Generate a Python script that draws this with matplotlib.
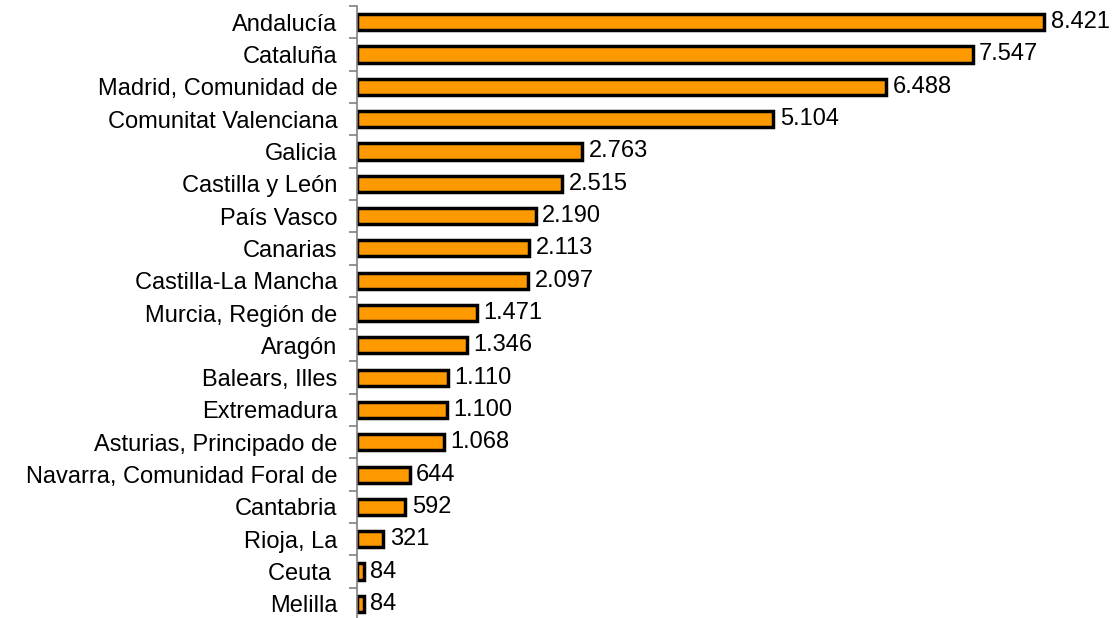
import matplotlib.pyplot as plt
import numpy as np

plt.rcParams['font.family'] = ['Liberation Sans', 'DejaVu Sans']

regions = ["Andalucía", "Cataluña", "Madrid, Comunidad de", "Comunitat Valenciana",
           "Galicia", "Castilla y León", "País Vasco", "Canarias", "Castilla-La Mancha",
           "Murcia, Región de", "Aragón", "Balears, Illes", "Extremadura",
           "Asturias, Principado de", "Navarra, Comunidad Foral de", "Cantabria",
           "Rioja, La", "Ceuta ", "Melilla"]
values = [8421, 7547, 6488, 5104, 2763, 2515, 2190, 2113, 2097,
          1471, 1346, 1110, 1100, 1068, 644, 592, 321, 84, 84]

fig = plt.figure(figsize=(11.16, 6.18), dpi=100)
ax = fig.add_axes([357 / 1116, -2 / 618, 1 - 357 / 1116 - 0.02, 614 / 618])

y = np.arange(len(regions))
ax.barh(y, values, height=0.5, color='#ff9900', edgecolor='black', linewidth=2.5)

for yi, v in zip(y, values):
    label = f"{v:,}".replace(",", ".")
    ax.text(v + 80, yi, label, va='center', ha='left', fontsize=17)

ax.set_ylim(len(regions) - 0.5, -0.5)
ax.set_xlim(0, 9030)
ax.set_yticks(y)
ax.set_yticklabels(regions, fontsize=17)
ax.set_yticks(np.arange(-0.5, len(regions), 1), minor=True)
ax.tick_params(axis='y', which='major', length=0, pad=14)
ax.tick_params(axis='y', which='minor', length=5.5, width=1.2, color='#808080')
ax.set_xticks([])
for s in ['top', 'right', 'bottom']:
    ax.spines[s].set_visible(False)
ax.spines['left'].set_color('#808080')
ax.spines['left'].set_linewidth(1.2)

fig.savefig('out.png', dpi=100)
